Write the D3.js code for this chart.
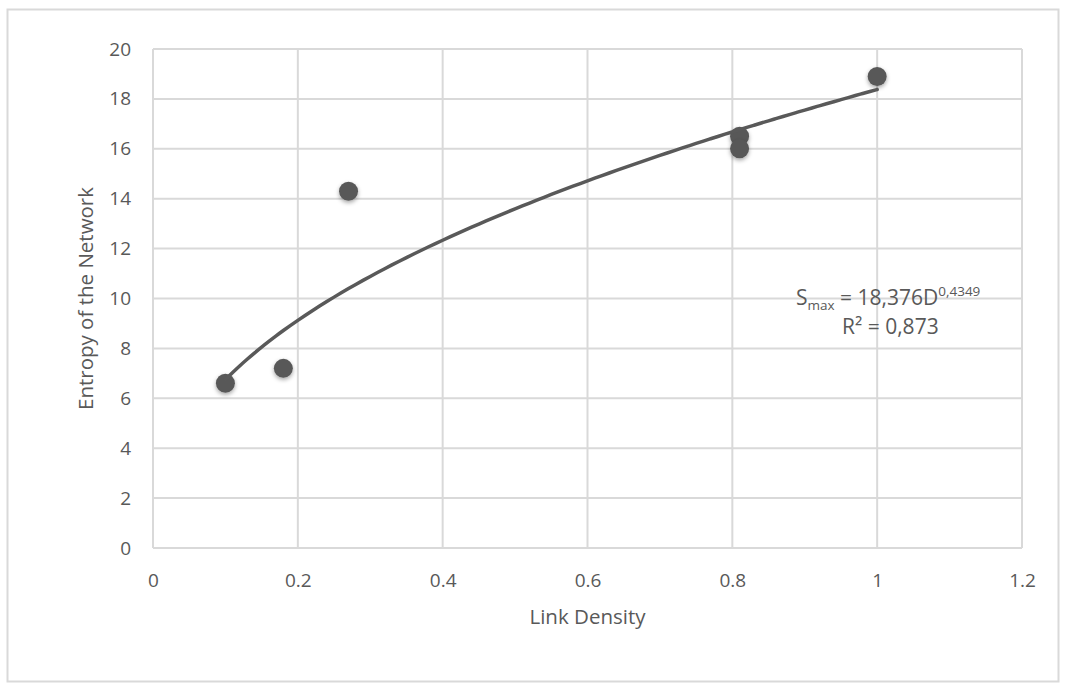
<!DOCTYPE html>
<html><head><meta charset="utf-8">
<script src="https://cdn.jsdelivr.net/npm/d3@7"></script>
<style>
body{margin:0;background:#fff;}
text{font-family:"Open Sans","Liberation Sans",sans-serif;fill:#595959;}
</style></head>
<body>
<svg id="c" width="1068" height="692"></svg>
<script>
const xValues = [0.1, 0.18, 0.27, 0.81, 0.81, 1.0];
const yValues = [6.6, 7.2, 14.3, 16.5, 16.0, 18.9];
const xTicks = [0, 0.2, 0.4, 0.6, 0.8, 1, 1.2];
const yTicks = [0, 2, 4, 6, 8, 10, 12, 14, 16, 18, 20];
const trendCoef = 18.376, trendExp = 0.4349;
const trendSamples = d3.range(0.1, 1.0001, 0.01);

const svg = d3.select("#c");
svg.append("rect").attr("x",7.5).attr("y",9.5).attr("width",1051).attr("height",672)
  .attr("fill","#fff").attr("stroke","#d9d9d9").attr("stroke-width",2);

const L=153, R=1022, T=49, B=548;
const x = d3.scaleLinear().domain([0,1.2]).range([L,R]);
const y = d3.scaleLinear().domain([0,20]).range([B,T]);

const defs = svg.append("defs");
const f = defs.append("filter").attr("id","sh").attr("x","-50%").attr("y","-50%").attr("width","200%").attr("height","200%");
f.append("feDropShadow").attr("dx",0).attr("dy",2).attr("stdDeviation",2).attr("flood-color","#000").attr("flood-opacity",0.35);

// grid
const g = svg.append("g");
g.selectAll("line.h").data(yTicks).join("line")
  .attr("x1",L).attr("x2",R).attr("y1",d=>y(d)).attr("y2",d=>y(d))
  .attr("stroke","#d9d9d9").attr("stroke-width",2);
g.selectAll("line.v").data(xTicks).join("line")
  .attr("y1",T).attr("y2",B).attr("x1",d=>x(d)).attr("x2",d=>x(d))
  .attr("stroke","#d9d9d9").attr("stroke-width",2);

// axes via d3 axis
const xa = svg.append("g").attr("transform",`translate(0,${B})`)
  .call(d3.axisBottom(x).tickValues(xTicks).tickSize(0).tickPadding(26).tickFormat(d=>d3.format("")(d)));
xa.select(".domain").remove();
xa.selectAll("text").attr("font-size",19).style("font-family","'Open Sans',sans-serif").attr("fill","#595959");
const ya = svg.append("g").attr("transform",`translate(${L},0)`)
  .call(d3.axisLeft(y).tickValues(yTicks).tickSize(0).tickPadding(22));
ya.select(".domain").remove();
ya.selectAll("text").attr("font-size",19).style("font-family","'Open Sans',sans-serif").attr("fill","#595959");

// axis titles
svg.append("text").attr("x",(L+R)/2).attr("y",624).attr("text-anchor","middle").attr("font-size",20.5).text("Link Density");
svg.append("text").attr("transform",`translate(93,${(T+B)/2}) rotate(-90)`).attr("text-anchor","middle").attr("font-size",20.5).text("Entropy of the Network");

// points
const pts = xValues.map((v,i)=>({x:v,y:yValues[i]}));
svg.append("g").selectAll("circle").data(pts).join("circle")
  .attr("cx",d=>x(d.x)).attr("cy",d=>y(d.y)).attr("r",9.5)
  .attr("fill","#585858").attr("filter","url(#sh)");

// trendline
const line = d3.line().x(d=>x(d)).y(d=>y(trendCoef*Math.pow(d,trendExp))).curve(d3.curveBasis);
svg.append("path").datum(trendSamples).attr("d",line).attr("fill","none")
  .attr("stroke","#595959").attr("stroke-width",3.5).attr("stroke-linecap","round");

// equation
const eq = svg.append("text").attr("x",796).attr("y",305).attr("font-size",21);
eq.append("tspan").text("S");
eq.append("tspan").attr("font-size",13.5).attr("dy",5).text("max");
eq.append("tspan").attr("dy",-5).text(" = 18,376D");
eq.append("tspan").attr("font-size",13.5).attr("dy",-9).text("0,4349");
svg.append("text").attr("x",842).attr("y",334).attr("font-size",21).text("R² = 0,873");
</script>
</body></html>
